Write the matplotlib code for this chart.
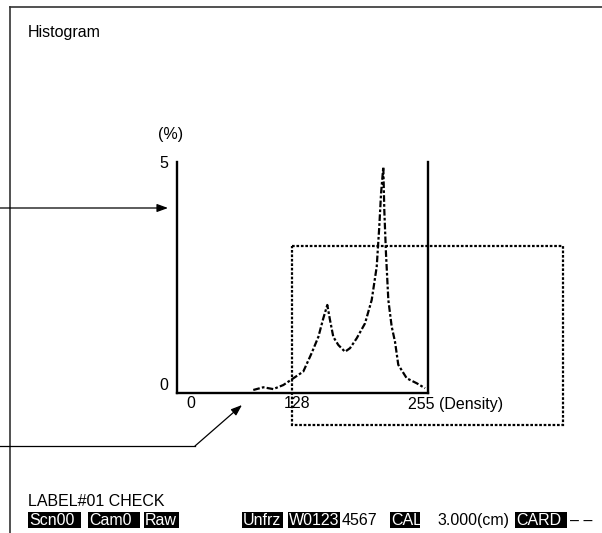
import matplotlib
matplotlib.use("Agg")
import matplotlib.pyplot as plt
from matplotlib.patches import Rectangle

plt.rcParams["font.family"] = ["Liberation Sans", "DejaVu Sans"]

# Histogram of density (0-255) vs. frequency (%)
density = [77.5, 87.7, 97.8, 108.0, 118.2, 128.3, 136.8, 143.6, 148.6, 152.7,
           155.4, 158.8, 163.9, 170.7, 175.8, 182.6, 191.0, 197.8, 202.9, 205.5,
           207.3, 209.6, 210.6, 212.3, 214.7, 218.1, 221.5, 224.8, 233.4, 243.5, 252.0]
percent = [0.00, 0.06, 0.02, 0.11, 0.26, 0.41, 0.82, 1.18, 1.59, 1.89,
           1.56, 1.18, 1.00, 0.85, 0.93, 1.15, 1.48, 2.00, 2.74, 3.63,
           4.37, 4.96, 4.00, 3.04, 2.00, 1.41, 1.07, 0.56, 0.26, 0.15, 0.04]

y_tick_labels = ["0", "5"]
x_tick_labels = ["0", "128", "255 (Density)"]

W, H = 602, 533
fig = plt.figure(figsize=(W / 100, H / 100), dpi=100)
FS = 11.5


def frac(x0, y0, x1, y1):
    return [x0 / W, 1 - y1 / H, (x1 - x0) / W, (y1 - y0) / H]


# histogram panel
ax = fig.add_axes(frac(177, 162, 428, 393))
ax.plot(density, percent, color="black", lw=1.6,
        linestyle=(0, (3, 1, 1.2, 1)))
ax.set_xlim(0, 255)
ax.set_ylim(-0.067, 5.067)
for side in ("left", "bottom", "right"):
    ax.spines[side].set_linewidth(1.7)
    ax.spines[side].set_color("black")
ax.spines["top"].set_visible(False)
ax.set_xticks([])
ax.set_yticks([])
ax.patch.set_alpha(0)

# screen overlay in pixel coordinates
ov = fig.add_axes([0, 0, 1, 1])
ov.set_xlim(0, W)
ov.set_ylim(H, 0)
ov.axis("off")
ov.patch.set_alpha(0)

# frame
ov.plot([10, 10], [533, 7], color="#333333", lw=1.2)
ov.plot([10, 602], [7, 7], color="#333333", lw=1.2)

ov.text(28, 33, "Histogram", fontsize=FS, va="center", ha="left")
ov.text(158, 135, "(%)", fontsize=FS, va="center", ha="left")

# axis labels
ov.text(168, 163, y_tick_labels[1], fontsize=FS, va="center", ha="right")
ov.text(168, 385, y_tick_labels[0], fontsize=FS, va="center", ha="right")
ov.text(191, 404, x_tick_labels[0], fontsize=FS, va="center", ha="center")
ov.text(297, 404, x_tick_labels[1], fontsize=FS, va="center", ha="center")
ov.text(408, 404, x_tick_labels[2], fontsize=FS, va="center", ha="left")

# selection window
ov.add_patch(Rectangle((292, 246), 563 - 292, 425 - 246, fill=False,
                       edgecolor="black", lw=1.6, linestyle=(0, (1.2, 0.8))))

# leader arrows
arrow = dict(arrowstyle="-|>,head_length=0.6,head_width=0.22", color="black",
             lw=0.9, mutation_scale=11, shrinkA=0, shrinkB=0)
ov.annotate("", xy=(168, 208), xytext=(0, 208), arrowprops=arrow)
ov.plot([0, 195], [446, 446], color="black", lw=0.9)
ov.annotate("", xy=(242, 405), xytext=(195, 446), arrowprops=arrow)

# status bar
ov.text(28, 501, "LABEL#01 CHECK", fontsize=FS, va="center", ha="left")

boxes = [("Scn00", 28, 81), ("Cam0", 88, 140), ("Raw", 144, 179),
         ("Unfrz", 242, 283), ("W0123", 288, 340), ("CAL", 390, 420),
         ("CARD", 515, 567)]
for label, x0, x1 in boxes:
    ov.add_patch(Rectangle((x0, 512), x1 - x0, 16, color="black", lw=0))
    ov.text(x0 + 1, 520.5, label, color="white", fontsize=FS,
            va="center", ha="left")

ov.text(342, 520.5, "4567", fontsize=FS, va="center", ha="left")
ov.text(437, 520.5, "3.000(cm)", fontsize=FS, va="center", ha="left")
ov.text(570, 520.5, "– –", fontsize=FS, va="center", ha="left")

fig.savefig("out.png", dpi=100)
